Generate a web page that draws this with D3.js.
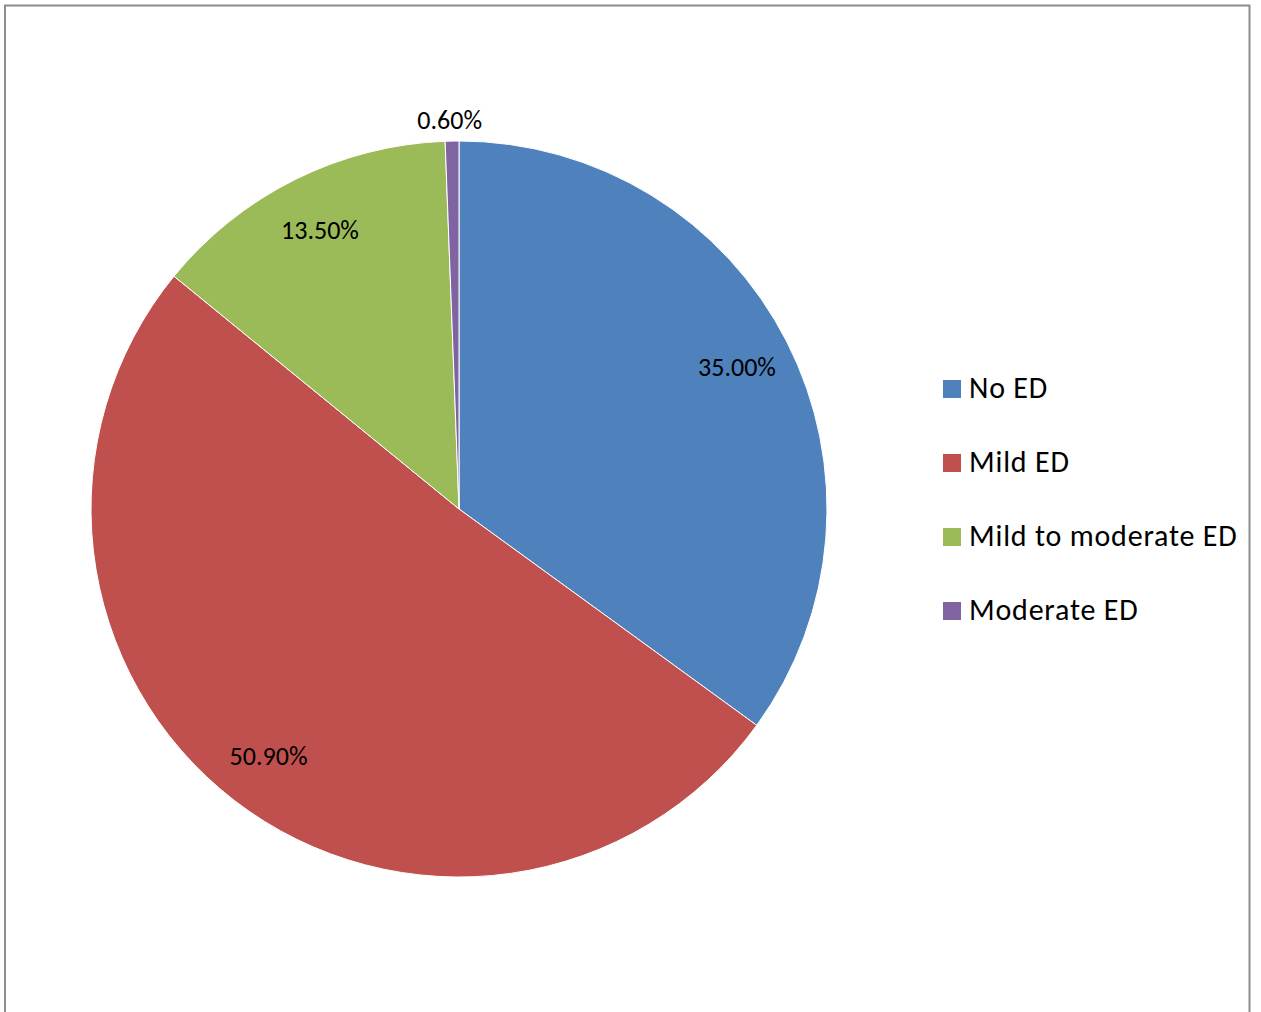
<!DOCTYPE html>
<html lang="en">
<head>
    <meta charset="UTF-8">
    <title>ED distribution</title>
    <style>
        body {
            margin: 0;
            background: #fff;
            font-family: Carlito, "Open Sans", "Noto Sans", sans-serif;
        }
        .slice path {
            stroke: #fff;
            stroke-width: 1px;
        }
    </style>
</head>
<body>
    <div id="chart"></div>

    <script src="https://d3js.org/d3.v7.min.js"></script>
    <script>
        var categories = ["No ED", "Mild ED", "Mild to moderate ED", "Moderate ED"];
        var values = [35.0, 50.9, 13.5, 0.6];
        var valueLabels = ["35.00%", "50.90%", "13.50%", "0.60%"];
        var colors = ["#4F81BD", "#C0504D", "#9BBB59", "#8064A2"];

        var width = 1261,
            height = 1012;

        var svg = d3.select("#chart").append("svg")
            .attr("width", width)
            .attr("height", height);

        // chart frame (bottom edge runs off the picture)
        svg.append("path")
            .attr("d", "M5,1020 V5.5 H1249.5 V1020")
            .attr("fill", "none")
            .attr("stroke", "#8c8c8c")
            .attr("stroke-width", 2);

        var cx = 459, cy = 509, radius = 368;

        var color = d3.scaleOrdinal().domain(categories).range(colors);

        var pie = d3.pie().sort(null).value(function(d) { return d.value; });
        var data = categories.map(function(c, i) {
            return {name: c, value: values[i], label: valueLabels[i]};
        });
        var arcs = pie(data);

        var arc = d3.arc().innerRadius(0).outerRadius(radius);
        var labelArc = d3.arc().innerRadius(312).outerRadius(312);
        var outerArc = d3.arc().innerRadius(radius + 22).outerRadius(radius + 22);

        var g = svg.append("g")
            .attr("transform", "translate(" + cx + "," + cy + ")");

        g.selectAll("g.slice")
            .data(arcs)
            .enter().append("g")
            .attr("class", "slice")
            .append("path")
            .attr("d", arc)
            .attr("fill", function(d) { return color(d.data.name); });

        g.selectAll("text.lbl")
            .data(arcs)
            .enter().append("text")
            .attr("class", "lbl")
            .attr("transform", function(d) {
                var small = d.data.value < 2;
                var p = small ? outerArc.centroid(d) : labelArc.centroid(d);
                if (small) p = [p[0] - 2, p[1] + 1];
                return "translate(" + p[0] + "," + p[1] + ")";
            })
            .attr("text-anchor", "middle")
            .attr("dominant-baseline", "central")
            .attr("font-size", 26)
            .attr("fill", "#000")
            .text(function(d) { return d.data.label; });

        // legend
        var legend = svg.append("g")
            .attr("transform", "translate(943,389)");

        var item = legend.selectAll("g")
            .data(categories)
            .enter().append("g")
            .attr("transform", function(d, i) { return "translate(0," + (i * 74) + ")"; });

        item.append("rect")
            .attr("x", 0)
            .attr("y", -9)
            .attr("width", 18)
            .attr("height", 18)
            .attr("fill", function(d) { return color(d); });

        item.append("text")
            .attr("x", 26)
            .attr("y", -2)
            .attr("dominant-baseline", "central")
            .attr("font-size", 30)
            .attr("letter-spacing", 0.8)
            .attr("fill", "#000")
            .text(function(d) { return d; });
    </script>
</body>
</html>
